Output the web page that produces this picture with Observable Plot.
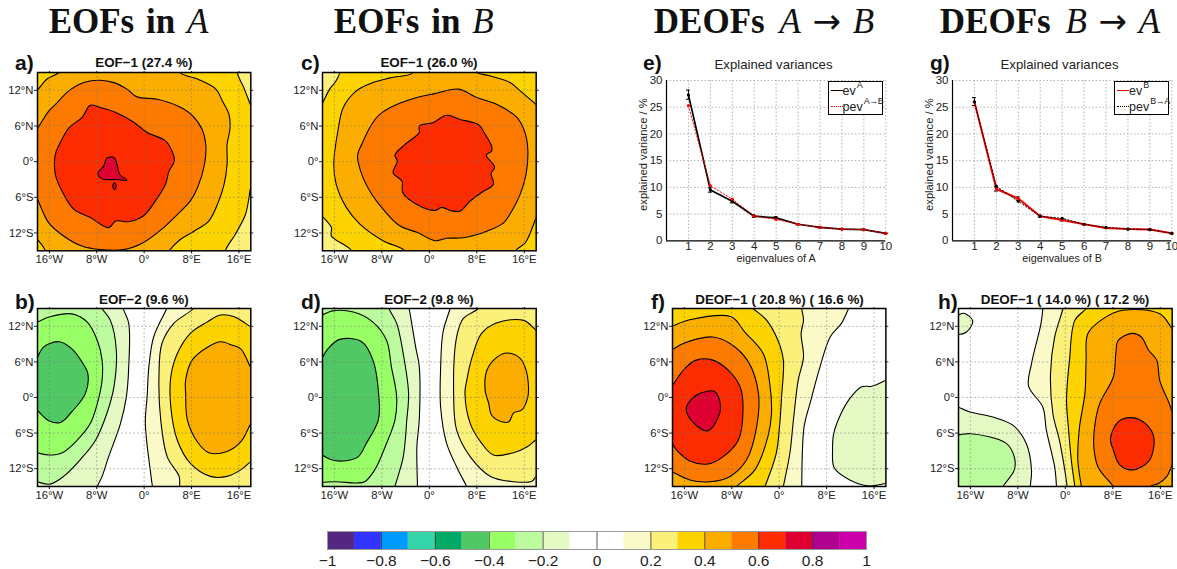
<!DOCTYPE html>
<html>
<head>
<meta charset="utf-8">
<script src="https://cdn.jsdelivr.net/npm/d3@7"></script>
<script src="https://cdn.jsdelivr.net/npm/@observablehq/plot@0.6"></script>
<style>
html,body{margin:0;padding:0;background:#fff;overflow:hidden}
#page{position:relative;width:1177px;height:569px;font-family:"Liberation Sans",sans-serif;color:#111}
#page svg{position:absolute;overflow:visible}
.abs{position:absolute;white-space:nowrap;line-height:1}
.head{font-family:"Liberation Serif",serif;font-weight:bold;font-size:35px;transform:translateX(-50%);word-spacing:3px}
.head i{font-weight:normal}
.head.w{word-spacing:6px}
.head b{font-family:"DejaVu Sans",sans-serif;font-weight:normal;font-size:34px;margin:0 -3px;line-height:0}
.tag{font-weight:bold;font-size:21px}
.sub{font-weight:bold;font-size:13.4px;transform:translateX(-50%);color:#111}
.lg{border:1.6px solid #000;box-sizing:border-box;background:#fff}
.lt{font-size:12.5px;color:#222}
.lt sup{font-size:9px;position:relative;top:-2px;vertical-align:super;line-height:0;margin-left:1px;letter-spacing:-0.4px}
</style>
</head>
<body>
<div id="page"></div>
<script>
// ---------- colour key ----------
const colorThresholds = [-0.9,-0.8,-0.7,-0.6,-0.5,-0.4,-0.3,-0.2,-0.1,0,0.1,0.2,0.3,0.4,0.5,0.6,0.7,0.8,0.9];
const colorRange = ["#542780","#3333ff","#0099ff","#33d5a9","#00aa66","#50c864","#99ff66","#bdfc9e","#e5f9c5","#ffffff","#ffffff","#faf9c8","#fbf07a","#fdd400","#fcae00","#fc7a00","#fc2c00","#dd0030","#b0008f","#cc00aa"];
const keyTicks = [-1,-0.8,-0.6,-0.4,-0.2,0,0.2,0.4,0.6,0.8,1];
const lonTicks = [-16,-8,0,8,16];
const latTicks = [-12,-6,0,6,12];

// ---------- contour regions (level, then lon,lat pairs) ----------
const FULL = [-30,-30,-30,30,30,30,30,-30];

const eofA1Levels = [0.25,0.35,0.45,0.55,0.65,0.75,0.75];
const eofA1Shapes = [
 FULL,
 [-25,25,15,25,15.7,15,16.8,12.5,18,9.4,20,4.2,20,-1,18,-4.4,17.7,-6,17.1,-8.9,15.4,-12.2,13.7,-15,13,-20,-25,-20],
 [-20,11,-18.1,12,-16.4,13.9,-14.4,15,-13,17,6,17,6.1,15,9,13.9,12.1,12.2,13.2,10.2,14.3,8,14.5,5.7,14,2.9,14,-0.4,13.5,-3.8,12.6,-6.6,10.9,-10,8.4,-11.7,6.1,-13.1,4.2,-15,3,-17,-16.7,-17,-16.7,-15,-18.1,-13,-20,-11],
 [-18.1,5.4,-16.1,8.5,-15,9.6,-12.7,11.9,-10.2,13.3,-7.4,13.7,-5.1,13.3,-2.9,12.2,-1.2,10.9,2.2,10.5,5.6,9.4,8.1,7.8,9.8,5.4,10.4,2.9,10.2,-0.4,9,-4.4,7.8,-6.6,5.6,-8.9,3.3,-11.1,-0.1,-13.6,-3.4,-14.8,-7.4,-14.8,-10.5,-14.2,-13.6,-12.5,-16.1,-10.3,-18.1,-6.1,-20,-2.1,-20,2.5],
 [-9.1,9.5,-7.4,9.1,-4.6,8.2,-1.7,6.6,0.5,4.9,3.6,3.5,4.7,1.8,5.1,0.1,4.2,-1.6,3.6,-3.8,1.9,-6.6,-0.1,-9.1,-2.6,-10.1,-4.8,-10,-6,-11.1,-9.1,-9.4,-11.9,-8,-13.9,-4.9,-15,-2.1,-15,1.2,-14.3,2.9,-12.7,5.7,-10.5,7.4],
 [-6.3,0.6,-5.1,0.7,-4.6,-0.4,-4.1,-2.2,-2.9,-3.1,-4.6,-3,-7.1,-2.9,-7.8,-2,-6.8,-0.7],
 [-5,-3.5,-4.7,-4.1,-5,-4.7,-5.3,-4.1]
];

const eofB1Levels = [0.25,0.35,0.45,0.55,0.65];
const eofB1Shapes = [
 FULL,
 [-20,5.8,-18.1,9.6,-16.8,12.2,-15.7,13.6,-15.1,15,-15,17,20,17,20,-17,-13.1,-17,-13.1,-15,-16.5,-12.5,-16.5,-11.1,-18.1,-9.1,-20,-6.7],
 [-2.7,17,-2.7,15,-6.6,14.1,-9.5,13.3,-12.3,11.9,-14.5,9.1,-15.4,5.2,-16.1,-0.4,-15.7,-3.8,-14,-7.7,-11.7,-10.5,-7.8,-13.3,-4.1,-15,-3,-17,13.5,-17,14.5,-15,16.2,-13.6,18,-9.4,20,-4.7,20,7.9,18,9.6,15.3,11.9,13.6,13.3,10.3,14.4,8,15,6,17],
 [4.9,12.2,8,10.8,11.4,9.6,14.8,7.4,16.2,4.6,16.6,1.8,16.3,-2.1,15.3,-5.5,13.9,-8.3,12.5,-10.3,9.7,-11.7,5.7,-12.8,2.9,-12.9,1,-13.3,-2.1,-11.9,-5,-10.8,-7.8,-8,-9.7,-5.5,-11.4,-2.1,-12.1,1,-11.4,2.9,-9.7,6.3,-8.3,8,-5.5,9.6,-2.1,10.8,0.7,11.4],
 [2.9,7.8,5.2,7.1,8.3,6.2,9.4,4.6,10.5,2.6,10.5,1.8,9.6,1.1,11,-0.9,10.4,-2,10.8,-3.8,8.8,-5.2,6.9,-6.6,5.2,-8.3,3.8,-8.3,2.1,-7.7,1,-8.2,-2.1,-7.2,-4.5,-5.2,-4.6,-3.3,-6.1,-1.9,-5.4,0.1,-5.8,1.1,-4.1,2.9,-1.7,4.9,-1.7,6,0.7,6.6]
];

const eofA2Levels = [0.05,-0.15,-0.25,-0.35,-0.45,0.15,0.25,0.35,0.45];
const eofA2Shapes = [
 FULL,
 [-25,17,-3.5,17,-3.5,15,-2.6,12.5,-2.6,5.2,-3,0.1,-4,-4.4,-6,-10,-7.1,-13.3,-7.9,-15,-8.5,-17,-25,-17],
 [-8,17,-7.1,15,-5.7,13,-4.7,8,-5.1,1.8,-6.3,-2.7,-8.2,-7.2,-10.8,-10.5,-13.6,-13.3,-15.9,-14.6,-18.1,-14.2,-20,-13.6,-20,17],
 [-18.1,12.7,-15.9,13.6,-12.2,14.1,-9.6,12.7,-7.9,9.6,-7.1,6.3,-7.1,2.9,-7.9,-1,-9.1,-4.4,-11.3,-7.2,-13.8,-9.3,-16.1,-9.7,-18.1,-9.3,-20,-8.9,-20,11.9],
 [-18.1,6.6,-17,8.5,-14.3,9.4,-12.2,8.2,-10.5,6,-9.5,4,-9.9,0.7,-12.2,-2.4,-14.1,-4.2,-16.1,-3.9,-18.1,-2.1,-20,-0.4,-20,3.3],
 [4.5,17,3.8,15,1.6,10.2,0.8,5.2,0.5,0.1,0.2,-4.4,1.1,-12.8,1.4,-15,1.7,-17,25,-17,25,17],
 [9.5,17,8.3,15,5,12.5,3,9.1,2.5,3.5,2.8,-3.8,3.9,-10,5.9,-13.3,6,-15,6.2,-17,25,-17,25,17],
 [18,11.9,15.2,13.6,12.9,13.9,10.6,12.7,7.8,10.8,5.6,7.4,4.5,3.5,4.5,-1.6,5.6,-7.2,7.8,-11.1,11.2,-13.3,14,-13.3,16.3,-12.2,18,-10.8,20,-9.2,20,10.7],
 [18,5,16.3,8.2,14.9,8.8,12.9,9.4,10.9,8.6,8.1,6.3,7,2.9,7,0.7,7.3,-3.8,9,-7.5,10.9,-9.3,14,-9.1,16.3,-7.5,18,-4.4,20,-0.8,20,1.2]
];

const eofB2Levels = [0.05,-0.15,-0.25,-0.35,-0.45,0.15,0.25,0.35,0.45];
const eofB2Shapes = [
 FULL,
 [-25,17,-3.8,17,-3.4,15,-2.3,8.5,-1.7,5.2,-1.7,-3.8,-2.1,-8.3,-2,-15,-2,-17,-25,-17],
 [-25,17,-7.3,17,-6.8,15,-5.5,12.5,-4.4,7.4,-3.5,0.7,-3.8,-3.8,-4.4,-10,-5.8,-15,-6.3,-17,-25,-17],
 [-18.1,13.9,-16.3,14.6,-12.8,14.4,-9.5,12.7,-7.2,9.6,-6.4,5.2,-5.5,0.1,-5.8,-3.8,-7.2,-7.7,-9.2,-12.2,-10.9,-14.2,-12.3,-14.4,-15.7,-14.2,-18.1,-14.3,-20,-14.3,-20,13.2],
 [-18.1,6.6,-17.1,8.2,-15.1,9.8,-11.4,9.4,-9.5,6.3,-8.5,0.1,-8.6,-3.8,-10.6,-7.7,-12,-10,-14.5,-10.7,-16.5,-10.5,-18.1,-9.7,-20,-8.9,-20,3.6],
 [4,17,3.5,15,2.3,11,1.9,5,1.9,-1.6,2.9,-7.7,4.6,-11.7,6.3,-15,7.3,-17,25,-17,25,17],
 [10,17,8.3,15,5.7,13.3,4.6,10.2,4.1,0.1,4.6,-5.5,6.9,-10,10.3,-13.3,14.2,-14.2,17.3,-14.1,18,-13.3,20,-12,20,17],
 [18,11.3,15.9,13,11.4,12.6,8.8,10.8,7.2,6.8,6.3,2.9,6,0.7,6.9,-4.4,8.8,-7.7,10.8,-9.7,14.2,-9.3,16.5,-8.3,18,-7.1,20,-5.9,20,9.7],
 [11.4,6.8,13.1,7.5,15.3,6.6,16.3,4.6,16.7,1.8,16.6,0.1,15.6,-2.1,14.2,-2.6,13.4,-4.1,12.2,-4.1,10.5,-3,10,-1,9.4,1.2,9.7,4.6]
];

const deofABLevels = [0.05,-0.15,0.15,0.25,0.35,0.45,0.55,0.65,0.75];
const deofABShapes = [
 FULL,
 [18,2.9,15.6,1.9,13.9,1.8,11.9,-0.2,10.3,-3,9.2,-6.1,9,-8.9,9.3,-11.9,11.9,-13.9,15,-14.9,18,-14.5,20,-14.2,20,3.8],
 [-25,17,12.5,17,11.7,15,10.5,12.5,8.6,10.2,6.9,5.2,5.2,-1,4.2,-4.9,3.8,-15,3.8,-17,-25,-17],
 [-25,17,3.6,17,3.8,15,4.1,13,3.7,10.8,4.1,6.8,3.2,2.9,2.4,-3.8,1.8,-9.4,0.7,-15,0.3,-17,-25,-17],
 [-25,17,-6.5,17,-4.4,15,-2.1,13,-0.2,9.6,0.7,6.3,0.4,0.1,0.1,-4.4,-0.5,-9.4,-2.4,-15,-3.2,-17,-25,-17],
 [-18.1,12,-15.1,13.1,-8.1,13.6,-5.8,11,-2.7,7.4,-1.6,2.4,-1.3,-2.7,-1.9,-6.6,-4.1,-12.2,-7.2,-15,-9,-17,-20,-17,-20,11.3],
 [-18.1,8,-16.2,9.1,-11.2,10.2,-8.3,9.1,-5.2,6,-3.5,0.7,-3.8,-4.9,-5.5,-10.5,-8.3,-13.3,-11.7,-14.2,-15.1,-13.9,-18.1,-12.5,-20,-11.6,-20,6.9],
 [-18.1,1.9,-15.9,4.9,-14,6.3,-11.2,6.3,-8.6,4.6,-6.6,1.8,-6.1,-1.6,-6.9,-7.2,-9.5,-10,-12,-11.2,-15.1,-10.7,-17.1,-9.1,-18.1,-7.7,-20,-5,-20,-0.7],
 [-13.1,0.8,-10.9,1,-9.9,-1.9,-12,-5.6,-14.6,-4.1,-15.7,-1.9,-14.5,0]
];

const deofBALevels = [0.05,-0.15,-0.15,-0.25,0.15,0.25,0.35,0.45,0.55,0.65];
const deofBAShapes = [
 FULL,
 [-18.1,13.9,-17.1,14.2,-15.6,12.9,-16.7,11,-18.1,10.6,-20,10.6,-20,13.9],
 [-18.1,-1.6,-16.2,-2.4,-12.2,-3.3,-8.8,-4.7,-6.6,-7.7,-5.7,-12.2,-5.9,-15,-6,-17,-20,-17,-20,-0.8],
 [-18.1,-6.3,-15.9,-6.1,-10,-7.7,-8.6,-10,-8.6,-12.2,-10.5,-15,-11.5,-17,-20,-17,-20,-6.4],
 [-3.8,17,-3.8,15,-4.1,12.5,-5.7,5.7,-6.2,1.9,-3.8,-1.6,-3.2,-5.5,-1.8,-11.7,-1.5,-15,-1.5,-17,25,-17,25,17],
 [0,17,-0.4,15,-1.8,10.2,-2.5,4,-2.1,-2.7,-1,-7.2,-0.1,-12.2,0.3,-15,0.6,-17,25,-17,25,17],
 [4.5,17,3.5,15,1.6,13,0.7,6.3,0.2,-0.4,0.5,-4.9,1,-10.5,1.6,-15,1.9,-17,25,-17,25,17],
 [9.7,14.7,15.9,14.1,18,11.6,20,9.2,20,-17,3,-17,2.7,-15,2.1,-10.5,2.4,-4.9,3.3,0.7,3.5,6.3,3.8,10.8,6.4,13.3],
 [11.2,10.8,12.8,10.2,14,8,15.4,6.3,15.9,2.9,17.5,-1,18,-2.4,20,-6,20,-8,18,-11.4,17.1,-13.3,15.7,-14.5,14.3,-15,13,-17,9.5,-17,8.1,-15,5.5,-11.7,4.8,-8.3,5,-4.4,5.8,-1,8.1,3.5,8.5,7.4,8.9,9.6],
 [8.9,-4.1,10.9,-3.4,13.1,-4.1,14.8,-6.3,14.8,-8.9,14,-10.8,11.4,-12.2,9.2,-11.4,8.1,-8.9,7.6,-6.9]
];

// ---------- explained variances ----------
const modes = [1,2,3,4,5,6,7,8,9,10];
const evA   = [27.3,9.5,7.4,4.6,4.3,3.1,2.5,2.2,2.1,1.4];
const pevAB = [25.3,10.3,7.8,4.6,4.0,3.1,2.5,2.2,2.1,1.4];
const evALo = [26.5,9.1,7.1,4.4,4.1,3.0,2.4,2.1,2.0,1.3];
const evAHi = [28.2,9.9,7.7,4.8,4.5,3.2,2.6,2.3,2.2,1.5];
const evB   = [26.0,9.7,7.9,4.6,3.9,3.1,2.4,2.2,2.1,1.4];
const pevBA = [26.0,10.2,7.4,4.6,4.2,3.1,2.5,2.2,2.1,1.4];
const evBLo = [25.3,9.3,7.6,4.4,3.7,3.0,2.3,2.1,2.0,1.3];
const evBHi = [26.8,10.1,8.2,4.8,4.1,3.2,2.5,2.3,2.2,1.5];
const varTicks = [0,5,10,15,20,25,30];

// ---------- layout ----------
const page = document.getElementById("page");
const FONT = "'Liberation Sans',sans-serif";
const colorOpt = {type:"threshold", domain:colorThresholds, range:colorRange};

function addText(cls, html, left, top, extra){
  const d = document.createElement("div");
  d.className = "abs " + cls;
  d.innerHTML = html;
  d.style.left = left + "px";
  d.style.top = top + "px";
  if (extra) Object.assign(d.style, extra);
  page.appendChild(d);
  return d;
}
function place(svg, left, top){
  svg.style.left = left + "px";
  svg.style.top = top + "px";
  page.appendChild(svg);
}
function contourRows(levels, shapes){
  const out = [];
  shapes.forEach((s,i)=>{ for(let j=0;j<s.length;j+=2) out.push({id:i,level:levels[i],lon:s[j],lat:s[j+1]}); });
  return out;
}
const fmtLon = d => d===0 ? "0°" : Math.abs(d)+"°"+(d<0?"W":"E");
const fmtLat = d => d===0 ? "0°" : Math.abs(d)+"°"+(d<0?"S":"N");

function mapPanel(levels, shapes, fx0, fx1, fy0, fy1){
  const mL=32, mR=5, mT=4, mB=22;
  const svg = Plot.plot({
    width:(fx1-fx0)+mL+mR, height:(fy1-fy0)+mT+mB,
    marginLeft:mL, marginRight:mR, marginTop:mT, marginBottom:mB,
    style:{fontFamily:FONT,fontSize:"11.3px",background:"transparent",color:"#222"},
    x:{domain:[-18,18]}, y:{domain:[-15,15]}, color:colorOpt,
    marks:[
      Plot.line(contourRows(levels,shapes),{x:"lon",y:"lat",z:"id",fill:"level",stroke:"#000",strokeWidth:1.1,curve:"catmull-rom-closed",clip:true}),
      Plot.ruleX(lonTicks,{stroke:"#777",strokeOpacity:0.6,strokeDasharray:"2 2",strokeWidth:0.8}),
      Plot.ruleY(latTicks,{stroke:"#777",strokeOpacity:0.6,strokeDasharray:"2 2",strokeWidth:0.8}),
      Plot.axisX({anchor:"bottom",ticks:lonTicks,tickFormat:fmtLon,tickSize:3,tickPadding:1,label:null,stroke:"#000"}),
      Plot.axisX({anchor:"top",ticks:lonTicks,tickFormat:()=>"",tickSize:2,label:null}),
      Plot.axisY({anchor:"left",ticks:latTicks,tickFormat:fmtLat,tickSize:3,tickPadding:1,label:null}),
      Plot.axisY({anchor:"right",ticks:latTicks,tickFormat:()=>"",tickSize:2,label:null}),
      Plot.frame({stroke:"#000",strokeWidth:1.5})
    ]
  });
  place(svg, fx0-mL, fy0-mT);
}

function variancePanel(solid, solidColor, solidWidth, dotted, dottedColor, lo, hi, xlabel, fx0, fx1, fy0, fy1){
  const mL=40, mR=6, mT=6, mB=26;
  const S = modes.map((m,i)=>({m,v:solid[i],lo:lo[i],hi:hi[i]}));
  const D = modes.map((m,i)=>({m,v:dotted[i]}));
  const svg = Plot.plot({
    width:(fx1-fx0)+mL+mR, height:(fy1-fy0)+mT+mB,
    marginLeft:mL, marginRight:mR, marginTop:mT, marginBottom:mB,
    style:{fontFamily:FONT,fontSize:"11.5px",background:"transparent",color:"#222"},
    x:{domain:[0,10]}, y:{domain:[0,30]},
    marks:[
      Plot.ruleX(modes,{stroke:"#aaa",strokeDasharray:"1.5 2",strokeWidth:0.9}),
      Plot.ruleY(varTicks.slice(1),{stroke:"#aaa",strokeDasharray:"1.5 2",strokeWidth:0.9}),
      Plot.ruleX(S,{x:"m",y1:"lo",y2:"hi",stroke:"#000",strokeWidth:1}),
      Plot.ruleY(S,{y:"hi",x1:d=>d.m-0.09,x2:d=>d.m+0.09,stroke:"#000",strokeWidth:1}),
      Plot.ruleY(S,{y:"lo",x1:d=>d.m-0.09,x2:d=>d.m+0.09,stroke:"#000",strokeWidth:1}),
      Plot.line(S,{x:"m",y:"v",stroke:solidColor,strokeWidth:solidWidth}),
      Plot.dot(S,{x:"m",y:"v",r:1.6,fill:solidColor}),
      Plot.line(D,{x:"m",y:"v",stroke:dottedColor,strokeWidth:1,strokeDasharray:"1.5 2"}),
      Plot.dot(D,{x:"m",y:"v",r:1.6,fill:dottedColor}),
      Plot.ruleX([0],{stroke:"#000",strokeWidth:1.2}),
      Plot.ruleY([0],{stroke:"#000",strokeWidth:1.2}),
      Plot.axisX({anchor:"bottom",ticks:modes,tickSize:0,tickPadding:1,label:null}),
      Plot.axisY({anchor:"left",ticks:varTicks,tickSize:0,tickPadding:4,label:null}),
      Plot.text(["explained variance / %"],{frameAnchor:"left",textAnchor:"middle",rotate:-90,dx:-23,dy:-6,fontSize:11.2,fill:"#222"}),
      Plot.text([xlabel],{frameAnchor:"bottom",lineAnchor:"middle",dy:18,fontSize:10.8,fill:"#222"})
    ]
  });
  place(svg, fx0-mL, fy0-mT);
}

// ---------- column headings ----------
addText("head","EOFs in <i>A</i>",128.5,4);
addText("head","EOFs in <i>B</i>",413.7,4);
addText("head w","DEOFs <i>A</i> <b>→</b> <i>B</i>",764,4);
addText("head w","DEOFs <i>B</i> <b>→</b> <i>A</i>",1050,4);

// ---------- maps ----------
const topY0=71.7, topY1=250, botY0=308.3, botY1=486.3;
mapPanel(eofA1Levels,eofA1Shapes,36.7,250,topY0,topY1);
mapPanel(eofB1Levels,eofB1Shapes,322.3,536,topY0,topY1);
mapPanel(eofA2Levels,eofA2Shapes,36.7,250,botY0,botY1);
mapPanel(eofB2Levels,eofB2Shapes,322.3,536,botY0,botY1);
mapPanel(deofABLevels,deofABShapes,672.3,885.7,botY0,botY1);
mapPanel(deofBALevels,deofBAShapes,958.3,1172,botY0,botY1);

// ---------- variance panels ----------
variancePanel(evA,"#000",1.7,pevAB,"#f00",evALo,evAHi,"eigenvalues of A",665.7,885,79.7,240);
variancePanel(evB,"#f00",2,pevBA,"#000",evBLo,evBHi,"eigenvalues of B",951.7,1171,79.7,240);

// ---------- panel tags and small titles ----------
[["a)",15,52],["c)",301,52],["b)",15,291],["d)",301,291],["e)",643,52],["g)",930,52],["f)",651,291],["h)",938,291]]
  .forEach(([t,x,y])=>addText("tag",t,x,y));
[["EOF−1 (27.4 %)",143.8,56],["EOF−1 (26.0 %)",429,56],["EOF−2 (9.6 %)",143.8,293],["EOF−2 (9.8 %)",429,293],
 ["DEOF−1 ( 20.8 %) ( 16.6 %)",779.5,293],["DEOF−1 ( 14.0 %) ( 17.2 %)",1065,293]]
  .forEach(([t,x,y])=>addText("sub",t,x,y));
addText("lt","Explained variances",714.5,58,{fontSize:"13.2px"});
addText("lt","Explained variances",1000.5,58,{fontSize:"13.2px"});

// ---------- legends ----------
function legend(x, solidColor, dottedColor, sup1, sup2){
  addText("lg","",x,81,{width:"55px",height:"34px"});
  addText("","",x+3,89.5,{width:"12px",height:"0",borderTop:"1.8px solid "+solidColor});
  addText("","",x+3,105.5,{width:"12px",height:"0",borderTop:"1.6px dotted "+dottedColor});
  addText("lt","ev<sup>"+sup1+"</sup>",x+15,85);
  addText("lt","pev<sup>"+sup2+"</sup>",x+15,101);
}
legend(827.5,"#000","#f00","A","A→B");
legend(1114,"#f00","#000","B","B→A");

// ---------- colour bar ----------
const keyCells = colorRange.map((c,i)=>({x1:-1+i*0.1,x2:-1+(i+1)*0.1,v:-0.95+i*0.1}));
const barX0=327, barX1=866, barY0=531, barY1=549;
const keySvg = Plot.plot({
  width:(barX1-barX0)+40, height:(barY1-barY0)+26,
  marginLeft:20, marginRight:20, marginTop:2, marginBottom:24,
  style:{fontFamily:FONT,fontSize:"15.5px",background:"transparent",color:"#222"},
  x:{domain:[-1,1]}, y:{domain:[0,1],axis:null}, color:colorOpt,
  marks:[
    Plot.rect(keyCells,{x1:"x1",x2:"x2",y1:0,y2:1,fill:"v"}),
    Plot.ruleX(keyTicks.slice(1,-1),{stroke:"#333",strokeWidth:0.8}),
    Plot.axisX({anchor:"bottom",ticks:keyTicks,tickSize:0,tickPadding:5,label:null,tickFormat:d=>String(+d.toFixed(1)).replace("-","−")}),
    Plot.frame({stroke:"#999",strokeWidth:1})
  ]
});
place(keySvg, barX0-20, barY0-2);
</script>
</body>
</html>
